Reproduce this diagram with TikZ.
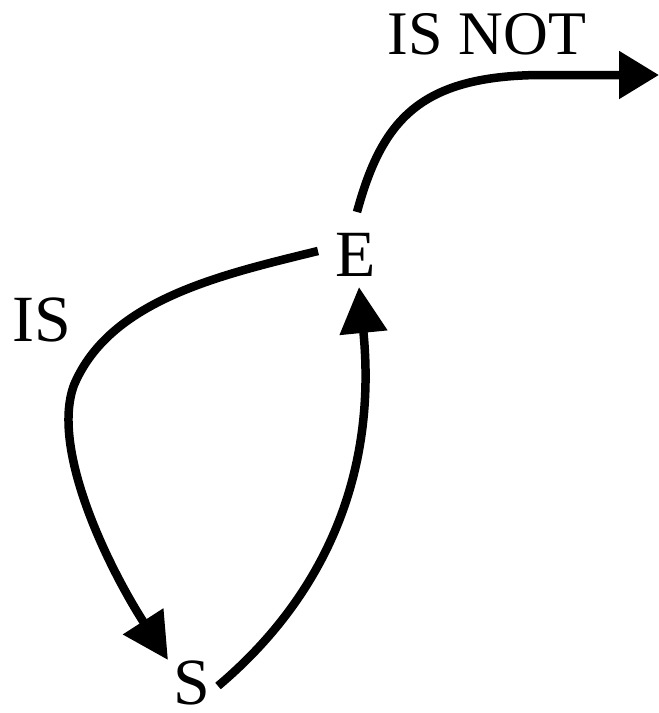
\documentclass[tikz,border=0pt]{standalone}
\usepackage{fontspec}
\setmainfont{Liberation Serif}
\usetikzlibrary{arrows.meta}
\begin{document}
\begin{tikzpicture}[x=1pt,y=-1pt,
  lbl/.style={inner sep=0pt,font=\fontsize{66}{70}\selectfont},
  conn/.style={line width=8.5pt,-{Triangle[length=46pt,width=46pt]}}]
\useasboundingbox (0,0) rectangle (659,713);
\node[lbl] (E) at (356,255) {E};
\node[lbl] (S) at (192,683) {S};
\node[lbl] (IS) at (42,320) {IS};
\node[lbl,font=\fontsize{62}{66}\selectfont] (ISNOT) at (487,34) {IS NOT};
\coordinate (e1) at (318,251);
\coordinate (e2) at (359,287);
\coordinate (e3) at (357,212);
\coordinate (s1) at (168,660);
\coordinate (s2) at (218,686);
\coordinate (out) at (659,75);
\draw[conn] (e1) .. controls (220,275) and (110,300) .. (74,385)
  .. controls (50,450) and (110,570) .. (s1);
\draw[conn] (s2) .. controls (320,600) and (378,480) .. (e2);
\draw[conn,-{Triangle[length=40pt,width=46pt]}] (e3) .. controls (382,120) and (420,76) .. (540,75) -- (out);
\end{tikzpicture}
\end{document}
